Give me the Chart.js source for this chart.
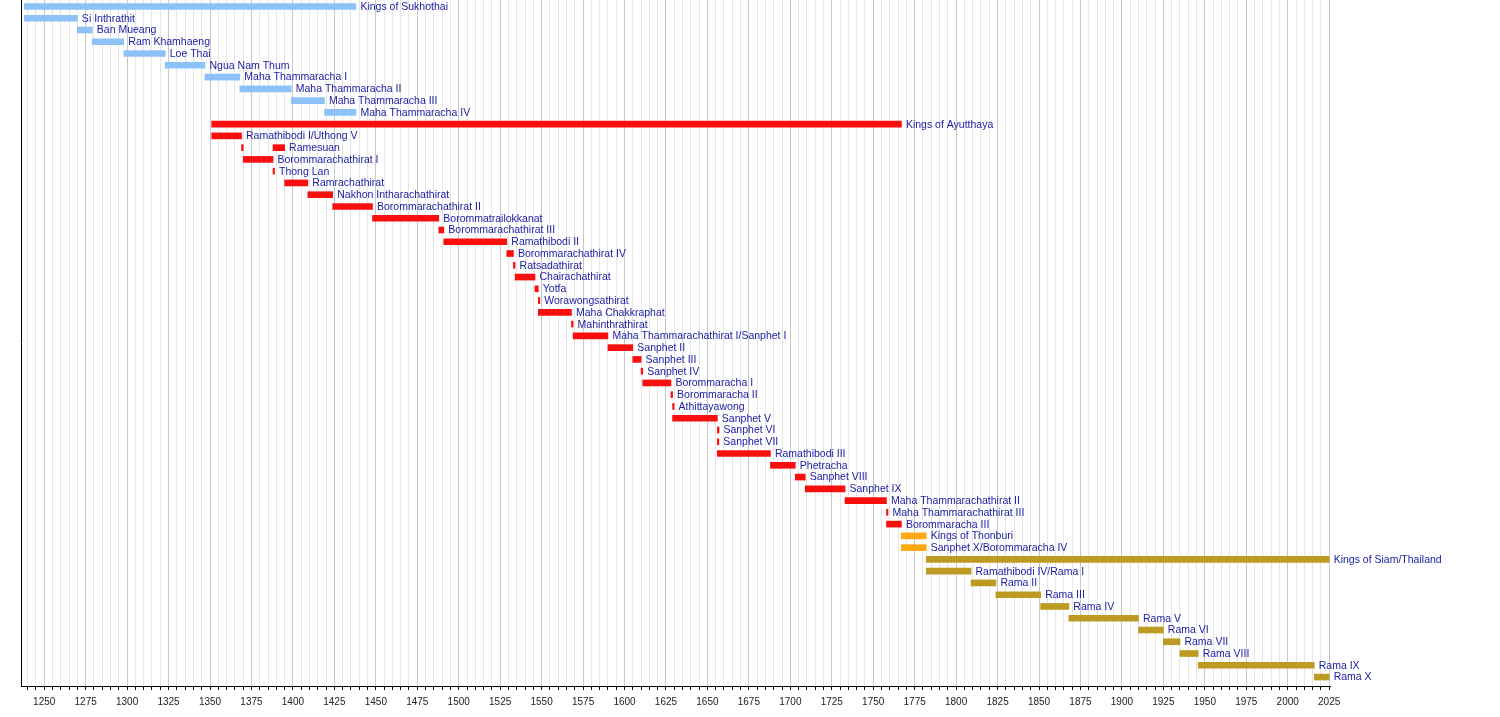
<!DOCTYPE html>
<html>
<head>
<meta charset="utf-8">
<script src="https://cdn.jsdelivr.net/npm/chart.js@4.4.1/dist/chart.umd.min.js"></script>
<style>
    html, body { margin: 0; padding: 0; background: #fff; }
    #wrap { width: 1500px; height: 717px; }
</style>
</head>
<body>
<div id="wrap"><canvas id="timeline" width="1500" height="717"></canvas></div>
<script>
// one row per bar, top to bottom
const kings = [
    'Kings of Sukhothai', 'Si Inthrathit', 'Ban Mueang', 'Ram Khamhaeng', 'Loe Thai',
    'Ngua Nam Thum', 'Maha Thammaracha I', 'Maha Thammaracha II', 'Maha Thammaracha III', 'Maha Thammaracha IV',
    'Kings of Ayutthaya', 'Ramathibodi I/Uthong V', 'Ramesuan', 'Borommarachathirat I', 'Thong Lan',
    'Ramrachathirat', 'Nakhon Intharachathirat', 'Borommarachathirat II', 'Borommatrailokkanat', 'Borommarachathirat III',
    'Ramathibodi II', 'Borommarachathirat IV', 'Ratsadathirat', 'Chairachathirat', 'Yotfa',
    'Worawongsathirat', 'Maha Chakkraphat', 'Mahinthrathirat', 'Maha Thammarachathirat I/Sanphet I', 'Sanphet II',
    'Sanphet III', 'Sanphet IV', 'Borommaracha I', 'Borommaracha II', 'Athittayawong',
    'Sanphet V', 'Sanphet VI', 'Sanphet VII', 'Ramathibodi III', 'Phetracha',
    'Sanphet VIII', 'Sanphet IX', 'Maha Thammarachathirat II', 'Maha Thammarachathirat III', 'Borommaracha III',
    'Kings of Thonburi', 'Sanphet X/Borommaracha IV', 'Kings of Siam/Thailand', 'Ramathibodi IV/Rama I', 'Rama II',
    'Rama III', 'Rama IV', 'Rama V', 'Rama VI', 'Rama VII',
    'Rama VIII', 'Rama IX', 'Rama X'
];
const reignStart = [
    1238, 1238, 1270, 1279, 1298, 1323, 1347, 1368, 1399, 1419,
    1351, 1351, 1388, 1370, 1388, 1395, 1409, 1424, 1448, 1488,
    1491, 1529, 1533, 1534, 1546, 1548, 1548, 1568, 1569, 1590,
    1605, 1610, 1611, 1628, 1629, 1629, 1656, 1656, 1656, 1688,
    1703, 1709, 1733, 1758, 1758, 1767, 1767, 1782, 1782, 1809,
    1824, 1851, 1868, 1910, 1925, 1935, 1946, 2016
];
const reignEnd = [
    1438, 1270, 1279, 1298, 1323, 1347, 1368, 1399, 1419, 1438,
    1767, 1369, 1395, 1388, 1388, 1409, 1424, 1448, 1488, 1491,
    1529, 1533, 1534, 1546, 1548, 1548, 1568, 1569, 1590, 1605,
    1610, 1611, 1628, 1629, 1629, 1656, 1657, 1656, 1688, 1703,
    1709, 1733, 1758, 1758, 1767, 1782, 1782, 2025, 1809, 1824,
    1851, 1868, 1910, 1925, 1935, 1946, 2016, 2025
];
const kingdom = [
    'sukhothai', 'sukhothai', 'sukhothai', 'sukhothai', 'sukhothai',
    'sukhothai', 'sukhothai', 'sukhothai', 'sukhothai', 'sukhothai',
    'ayutthaya', 'ayutthaya', 'ayutthaya', 'ayutthaya', 'ayutthaya',
    'ayutthaya', 'ayutthaya', 'ayutthaya', 'ayutthaya', 'ayutthaya',
    'ayutthaya', 'ayutthaya', 'ayutthaya', 'ayutthaya', 'ayutthaya',
    'ayutthaya', 'ayutthaya', 'ayutthaya', 'ayutthaya', 'ayutthaya',
    'ayutthaya', 'ayutthaya', 'ayutthaya', 'ayutthaya', 'ayutthaya',
    'ayutthaya', 'ayutthaya', 'ayutthaya', 'ayutthaya', 'ayutthaya',
    'ayutthaya', 'ayutthaya', 'ayutthaya', 'ayutthaya', 'ayutthaya',
    'thonburi', 'thonburi', 'siam', 'siam', 'siam',
    'siam', 'siam', 'siam', 'siam', 'siam',
    'siam', 'siam', 'siam'
];
// Ramesuan reigned twice
const secondReigns = [
    { king: 'Ramesuan', start: 1369, end: 1370 }
];
const majorTicks = [1250, 1275, 1300, 1325, 1350, 1375, 1400, 1425, 1450, 1475, 1500, 1525, 1550,
    1575, 1600, 1625, 1650, 1675, 1700, 1725, 1750, 1775, 1800, 1825, 1850, 1875, 1900,
    1925, 1950, 1975, 2000, 2025];
const minorStep = 5;

const kingdomColors = {
    sukhothai: '#8cc2f7',
    ayutthaya: '#fa0f0f',
    thonburi: '#ffa812',
    siam: '#bf9a22',
};

const mainData = kings.map((name, i) => ({ y: i, x: [reignStart[i], reignEnd[i]] }));
const extraData = secondReigns.map((r) => ({ y: kings.indexOf(r.king), x: [r.start, r.end] }));

// rows sit at 0..57, a little extra room below the last one
const rowMin = -0.55;
const rowMax = 57.76;

const reignLabels = {
    id: 'reignLabels',
    afterDatasetsDraw: (chart) => {
        const { ctx } = chart;
        const meta = chart.getDatasetMeta(0);
        ctx.save();
        ctx.font = '10.5px "Liberation Sans", Arial, sans-serif';
        ctx.fillStyle = '#1a1aa4';
        ctx.textBaseline = 'middle';
        ctx.textAlign = 'left';
        meta.data.forEach((bar, i) => {
            const right = Math.max(bar.x, bar.base);
            ctx.fillText(kings[i], right + 4.5, bar.y + 0.5);
        });
        ctx.restore();
    },
};

new Chart(document.getElementById('timeline'), {
    type: 'bar',
    data: {
        datasets: [
            {
                data: mainData,
                backgroundColor: kings.map((k, i) => kingdomColors[kingdom[i]]),
                grouped: false,
            },
            {
                data: extraData,
                backgroundColor: secondReigns.map((r) => kingdomColors[kingdom[kings.indexOf(r.king)]]),
                grouped: false,
            },
        ],
    },
    options: {
        indexAxis: 'y',
        responsive: false,
        animation: false,
        barThickness: 6,
        minBarLength: 1.5,
        borderWidth: 0,
        layout: {
            padding: { left: 21, right: 170, top: 0, bottom: 3 },
        },
        plugins: {
            legend: { display: false },
            tooltip: { enabled: false },
        },
        scales: {
            x: {
                type: 'linear',
                min: 1236,
                max: 2025.5,
                afterBuildTicks: (scale) => {
                    const ticks = [];
                    for (let v = Math.ceil(scale.min / minorStep) * minorStep; v <= scale.max; v += minorStep) {
                        ticks.push({ value: v });
                    }
                    scale.ticks = ticks;
                },
                ticks: {
                    autoSkip: false,
                    maxRotation: 0,
                    padding: 6,
                    color: '#222',
                    font: { family: '"Liberation Sans", Arial, sans-serif', size: 10 },
                    callback: (value) => (majorTicks.includes(value) ? String(value) : ''),
                },
                grid: {
                    color: (ctx) => (ctx.tick && majorTicks.includes(ctx.tick.value) ? '#c8c8c8' : '#e6e6e6'),
                    tickColor: '#000',
                    tickLength: 4,
                    lineWidth: 1,
                },
                border: { color: '#000', width: 1 },
            },
            y: {
                type: 'linear',
                reverse: true,
                offset: false,
                bounds: 'data',
                afterDataLimits: (scale) => {
                    scale.min = rowMin;
                    scale.max = rowMax;
                },
                afterBuildTicks: (scale) => {
                    scale.min = rowMin;
                    scale.max = rowMax;
                    scale.ticks = [{ value: rowMin }, { value: rowMax }];
                },
                ticks: { display: false },
                grid: { display: false, drawTicks: false },
                border: { color: '#000', width: 1 },
            },
        },
    },
    plugins: [reignLabels],
});
</script>
</body>
</html>
